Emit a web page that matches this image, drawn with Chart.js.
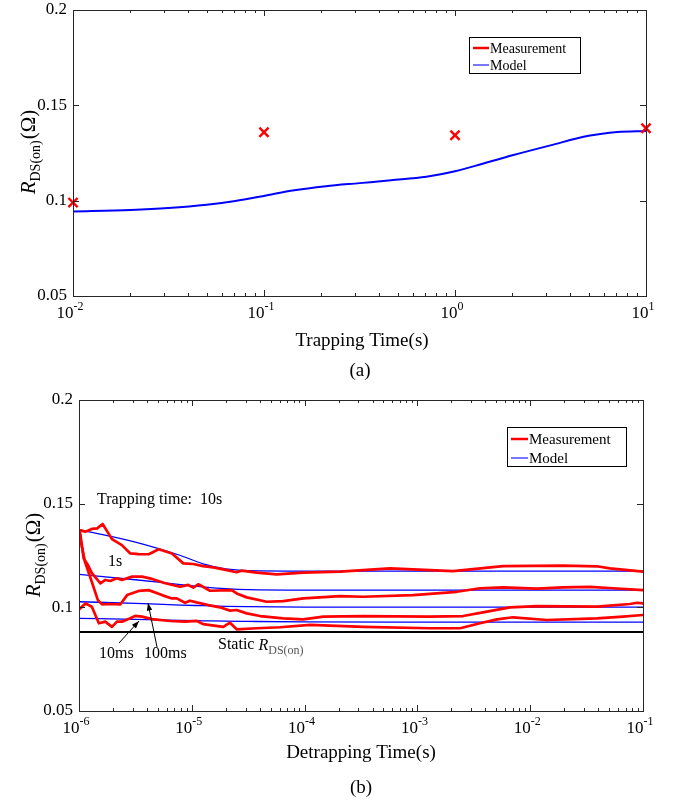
<!DOCTYPE html>
<html>
<head>
<meta charset="utf-8">
<script src="https://cdn.jsdelivr.net/npm/chart.js@4.4.0/dist/chart.umd.min.js"></script>
<style>
html, body { margin: 0; padding: 0; background: #fff; }
#wrap { position: relative; width: 681px; height: 804px; }
canvas { position: absolute; left: 0; }
</style>
</head>
<body>
<div id="wrap">
  <canvas id="chartA" width="681" height="390" style="top:0;width:681px;height:390px"></canvas>
  <canvas id="chartB" width="681" height="414" style="top:390px;width:681px;height:414px"></canvas>
</div>
<script>
// ─── Data (a): trapping time ─────────────────────────────────────────────────
const trapDecades = [-2, -1, 0, 1];
const rTicks = [0.05, 0.1, 0.15, 0.2];

const trapMeasT = [0.01, 0.1, 1, 10];
const trapMeasR = [0.0990, 0.1359, 0.1343, 0.1380];

const trapModelT = [0.01, 0.02, 0.0316, 0.0501, 0.0708, 0.1, 0.141, 0.211, 0.316, 0.462, 0.708, 1, 1.41, 2.0, 3.16, 5.01, 7.08, 10];
const trapModelR = [0.0943, 0.0951, 0.0961, 0.0978, 0.0998, 0.1025, 0.1053, 0.1076, 0.1092, 0.1107, 0.1125, 0.1154, 0.1195, 0.1238, 0.1290, 0.1340, 0.1360, 0.1366];

// ─── Data (b): detrapping time ───────────────────────────────────────────────
const detrapDecades = [-6, -5, -4, -3, -2, -1];

const meas10sT = [1.00e-6, 1.14e-6, 1.30e-6, 1.45e-6, 1.62e-6, 1.96e-6, 2.40e-6, 2.85e-6, 3.38e-6, 4.15e-6, 5.09e-6, 6.67e-6, 8.41e-6, 1.03e-5, 1.26e-5, 1.55e-5, 1.90e-5, 2.50e-5, 2.77e-5, 3.76e-5, 5.66e-5, 9.73e-5, 2.06e-4, 5.71e-4, 2.07e-3, 5.74e-3, 1.95e-2, 3.91e-2, 5.09e-2, 1.00e-1];
const meas10sR = [0.1373, 0.1365, 0.1378, 0.1381, 0.1402, 0.1329, 0.1300, 0.1260, 0.1257, 0.1256, 0.1280, 0.1260, 0.1212, 0.1209, 0.1199, 0.1193, 0.1183, 0.1169, 0.1177, 0.1167, 0.1159, 0.1167, 0.1172, 0.1188, 0.1175, 0.1199, 0.1201, 0.1198, 0.1188, 0.1172];

const meas1sT = [1.00e-6, 1.03e-6, 1.10e-6, 1.20e-6, 1.30e-6, 1.55e-6, 1.71e-6, 1.89e-6, 2.17e-6, 2.40e-6, 2.95e-6, 3.62e-6, 4.44e-6, 5.82e-6, 7.85e-6, 9.31e-6, 1.03e-5, 1.14e-5, 1.26e-5, 1.45e-5, 2.26e-5, 2.50e-5, 3.07e-5, 4.61e-5, 6.47e-5, 9.73e-5, 2.06e-4, 3.30e-4, 9.14e-4, 2.24e-3, 3.59e-3, 5.74e-3, 1.15e-2, 1.95e-2, 3.39e-2, 5.42e-2, 1.00e-1];
const meas1sR = [0.1368, 0.1349, 0.1236, 0.1204, 0.1165, 0.1116, 0.1132, 0.1127, 0.1140, 0.1132, 0.1148, 0.1148, 0.1137, 0.1116, 0.1099, 0.1108, 0.1095, 0.1111, 0.1099, 0.1080, 0.1083, 0.1067, 0.1048, 0.1027, 0.1030, 0.1043, 0.1054, 0.1051, 0.1059, 0.1075, 0.1092, 0.1096, 0.1090, 0.1096, 0.1099, 0.1092, 0.1083];

const meas100msT = [1.00e-6, 1.02e-6, 1.13e-6, 1.30e-6, 1.47e-6, 1.60e-6, 1.88e-6, 2.32e-6, 2.67e-6, 3.38e-6, 4.15e-6, 5.44e-6, 6.67e-6, 7.35e-6, 8.71e-6, 9.64e-6, 1.10e-5, 1.40e-5, 1.78e-5, 2.18e-5, 2.50e-5, 3.07e-5, 4.03e-5, 6.47e-5, 9.73e-5, 1.47e-4, 3.30e-4, 1.29e-3, 2.54e-3, 4.14e-3, 6.62e-3, 1.15e-2, 3.91e-2, 7.66e-2, 8.85e-2, 1.00e-1];
const meas100msR = [0.1363, 0.1339, 0.1219, 0.1122, 0.1035, 0.1014, 0.1016, 0.1014, 0.1059, 0.1079, 0.1083, 0.1059, 0.1043, 0.1043, 0.1022, 0.1032, 0.1024, 0.1011, 0.1000, 0.0984, 0.0987, 0.0971, 0.0958, 0.0947, 0.0942, 0.0955, 0.0958, 0.0955, 0.0958, 0.0979, 0.1000, 0.1006, 0.1003, 0.1016, 0.1022, 0.1019];

const meas10msT = [1.00e-6, 1.14e-6, 1.30e-6, 1.50e-6, 1.71e-6, 1.96e-6, 2.17e-6, 2.40e-6, 2.85e-6, 3.15e-6, 3.62e-6, 4.44e-6, 6.41e-6, 8.71e-6, 1.10e-5, 1.26e-5, 1.90e-5, 2.18e-5, 2.50e-5, 3.76e-5, 6.05e-5, 1.12e-4, 3.30e-4, 1.29e-3, 2.39e-3, 3.59e-3, 5.08e-3, 7.05e-3, 1.41e-2, 3.91e-2, 6.65e-2, 1.00e-1];
const meas10msR = [0.0990, 0.1019, 0.1003, 0.0923, 0.0931, 0.0906, 0.0931, 0.0931, 0.0947, 0.0959, 0.0955, 0.0943, 0.0934, 0.0931, 0.0935, 0.0919, 0.0906, 0.0926, 0.0894, 0.0899, 0.0904, 0.0915, 0.0906, 0.0899, 0.0899, 0.0923, 0.0942, 0.0952, 0.0939, 0.0947, 0.0955, 0.0963];

const modelT = [1e-6, 3.16e-6, 7.94e-6, 1.26e-5, 2.0e-5, 3.16e-5, 1e-4, 1e-3, 1e-2, 1e-1];
const model10sR = [0.1375, 0.1315, 0.1250, 0.1210, 0.1185, 0.1177, 0.1175, 0.1175, 0.1175, 0.1175];
const model1sR = [0.1159, 0.1133, 0.1110, 0.1099, 0.1090, 0.1085, 0.1083, 0.1083, 0.1083, 0.1083];
const model100msR = [0.1027, 0.1019, 0.1011, 0.1008, 0.1005, 0.1003, 0.1001, 0.1001, 0.1001, 0.1001];
const model10msR = [0.0947, 0.0942, 0.0937, 0.0935, 0.0933, 0.0932, 0.0930, 0.0929, 0.0929, 0.0929];

const staticT = [1e-6, 1e-1];
const staticR = [0.0881, 0.0881];

// ─── Helpers ─────────────────────────────────────────────────────────────────
const SERIF = '"Liberation Serif", "Times New Roman", serif';
const AXIS_COLOR = '#262626';

const pts = (ts, rs) => ts.map((t, i) => ({ x: t, y: rs[i] }));

function measLine(ts, rs) {
    return { data: pts(ts, rs), borderColor: '#ff0000', borderWidth: 2.7, pointRadius: 0,
             tension: 0, borderJoinStyle: 'round', borderCapStyle: 'round', order: 0 };
}
function modelLine(ts, rs, width) {
    return { data: pts(ts, rs), borderColor: '#0000ff', borderWidth: width, pointRadius: 0,
             cubicInterpolationMode: 'monotone', order: 1 };
}

function drawPow(ctx, x, y, exp) {
    const base = '10', sup = String(exp);
    ctx.font = `17px ${SERIF}`;
    const bw = ctx.measureText(base).width;
    ctx.font = `12px ${SERIF}`;
    const sw = ctx.measureText(sup).width;
    const x0 = x - (bw + sw) / 2 - 3;
    ctx.textAlign = 'left';
    ctx.textBaseline = 'middle';
    ctx.font = `17px ${SERIF}`;
    ctx.fillText(base, x0, y);
    ctx.font = `12px ${SERIF}`;
    ctx.fillText(sup, x0 + bw, y - 7);
}

function drawRLabel(ctx, x, y, size, subSize, tail, subColor) {
    // R_DS(on) followed by optional tail text, drawn left-aligned at x
    ctx.textAlign = 'left';
    ctx.textBaseline = 'alphabetic';
    ctx.font = `italic ${size}px ${SERIF}`;
    ctx.fillText('R', x, y);
    let cx = x + ctx.measureText('R').width;
    ctx.font = `${subSize}px ${SERIF}`;
    ctx.fillStyle = subColor || ctx.fillStyle;
    ctx.fillText('DS(on)', cx, y + size * 0.22);
    cx += ctx.measureText('DS(on)').width;
    if (tail) {
        ctx.fillStyle = '#000';
        ctx.font = `${size}px ${SERIF}`;
        ctx.fillText(tail, cx + 1, y);
        cx += ctx.measureText(tail).width + 1;
    }
    return cx - x;
}

function measureRLabel(ctx, size, subSize, tail) {
    ctx.font = `italic ${size}px ${SERIF}`;
    let w = ctx.measureText('R').width;
    ctx.font = `${subSize}px ${SERIF}`;
    w += ctx.measureText('DS(on)').width;
    ctx.font = `${size}px ${SERIF}`;
    w += ctx.measureText(tail).width + 1;
    return w;
}

// ─── Frame plugin: box, ticks, labels, legend ────────────────────────────────
const framePlugin = {
    id: 'frame',
    afterDatasetsDraw(chart, args, o) {
        const ctx = chart.ctx, a = chart.chartArea;
        const xs = chart.scales.x, ys = chart.scales.y;
        ctx.save();

        // box
        ctx.strokeStyle = AXIS_COLOR;
        ctx.lineWidth = 1;
        ctx.strokeRect(a.left + 0.5, a.top + 0.5, a.right - a.left, a.bottom - a.top);

        // x ticks (log, inward on top and bottom)
        ctx.beginPath();
        o.decades.forEach((e, i) => {
            const base = Math.pow(10, e);
            const px = Math.round(xs.getPixelForValue(base)) + 0.5;
            ctx.moveTo(px, a.bottom); ctx.lineTo(px, a.bottom - 6);
            ctx.moveTo(px, a.top); ctx.lineTo(px, a.top + 6);
            if (i < o.decades.length - 1) {
                for (let k = 2; k <= 9; k++) {
                    const mx = Math.round(xs.getPixelForValue(k * base)) + 0.5;
                    ctx.moveTo(mx, a.bottom); ctx.lineTo(mx, a.bottom - 3);
                    ctx.moveTo(mx, a.top); ctx.lineTo(mx, a.top + 3);
                }
            }
        });
        // y ticks
        rTicks.forEach(v => {
            const py = Math.round(ys.getPixelForValue(v)) + 0.5;
            ctx.moveTo(a.left, py); ctx.lineTo(a.left + 6, py);
            ctx.moveTo(a.right, py); ctx.lineTo(a.right - 6, py);
        });
        ctx.stroke();

        // tick labels
        ctx.fillStyle = '#000';
        o.decades.forEach(e => drawPow(ctx, xs.getPixelForValue(Math.pow(10, e)), a.bottom + 18, e));
        ctx.font = `17px ${SERIF}`;
        ctx.textAlign = 'right';
        ctx.textBaseline = 'middle';
        rTicks.forEach(v => ctx.fillText(String(v), a.left - 6, ys.getPixelForValue(v)));

        // axis titles
        ctx.font = `19px ${SERIF}`;
        ctx.textAlign = 'center';
        ctx.fillText(o.xTitle, o.xTitlePos[0], o.xTitlePos[1]);
        ctx.fillText(o.caption, o.captionPos[0], o.captionPos[1]);

        ctx.save();
        ctx.translate(o.yTitlePos[0], o.yTitlePos[1]);
        ctx.rotate(-Math.PI / 2);
        const w = measureRLabel(ctx, 21, 14, '(Ω)');
        ctx.fillStyle = '#000';
        drawRLabel(ctx, -w / 2, 7, 21, 14, '(Ω)');
        ctx.restore();

        // legend
        const L = o.legend;
        ctx.fillStyle = '#fff';
        ctx.fillRect(L.x, L.y, L.w, L.h);
        ctx.strokeStyle = '#000';
        ctx.lineWidth = 1;
        ctx.strokeRect(L.x + 0.5, L.y + 0.5, L.w, L.h);
        ctx.lineWidth = 2.5;
        ctx.strokeStyle = '#ff0000';
        ctx.beginPath(); ctx.moveTo(L.x + 4, L.y + L.r1); ctx.lineTo(L.x + L.lineW, L.y + L.r1); ctx.stroke();
        ctx.lineWidth = 1.5;
        ctx.strokeStyle = '#4a4aff';
        ctx.beginPath(); ctx.moveTo(L.x + 4, L.y + L.r2); ctx.lineTo(L.x + L.lineW, L.y + L.r2); ctx.stroke();
        ctx.fillStyle = '#000';
        ctx.font = `${L.font}px ${SERIF}`;
        ctx.textAlign = 'left';
        ctx.textBaseline = 'middle';
        ctx.fillText('Measurement', L.x + L.lineW + 1, L.y + L.r1 + 1);
        ctx.fillText('Model', L.x + L.lineW + 1, L.y + L.r2 + 1);

        if (o.extra) o.extra(ctx);
        ctx.restore();
    }
};

function arrow(ctx, x1, y1, x2, y2) {
    ctx.beginPath();
    ctx.moveTo(x1, y1); ctx.lineTo(x2, y2);
    ctx.stroke();
    const ang = Math.atan2(y2 - y1, x2 - x1), len = 8;
    ctx.beginPath();
    ctx.moveTo(x2, y2);
    ctx.lineTo(x2 - len * Math.cos(ang - 0.35), y2 - len * Math.sin(ang - 0.35));
    ctx.lineTo(x2 - len * Math.cos(ang + 0.35), y2 - len * Math.sin(ang + 0.35));
    ctx.closePath();
    ctx.fill();
}

function annotateB(ctx) {
    ctx.fillStyle = '#000';
    ctx.strokeStyle = '#000';
    ctx.lineWidth = 1;
    ctx.font = `16px ${SERIF}`;
    ctx.textAlign = 'left';
    ctx.textBaseline = 'middle';
    ctx.fillText('Trapping time:  10s', 97, 110);
    ctx.fillText('1s', 108, 172);
    ctx.fillText('10ms', 99, 264);
    ctx.fillText('100ms', 144, 264);
    ctx.fillText('Static ', 218, 255);
    ctx.font = `16px ${SERIF}`;
    const sw = ctx.measureText('Static ').width;
    drawRLabel(ctx, 218 + sw, 260, 16, 12, null, '#555');
    ctx.fillStyle = '#000';
    arrow(ctx, 119, 253, 139, 231);
    arrow(ctx, 157, 257, 148, 213);
}

// ─── Chart (a) ───────────────────────────────────────────────────────────────
new Chart(document.getElementById('chartA'), {
    type: 'line',
    data: {
        datasets: [
            { data: pts(trapMeasT, trapMeasR), showLine: false, pointStyle: 'crossRot', pointRadius: 6.5,
              pointBorderColor: '#ff0000', pointBorderWidth: 2.4, borderColor: '#ff0000', clip: false, order: 0 },
            modelLine(trapModelT, trapModelR, 2)
        ]
    },
    options: {
        responsive: false,
        animation: false,
        layout: { padding: { left: 73, top: 10, right: 35, bottom: 94 } },
        plugins: {
            legend: { display: false },
            tooltip: { enabled: false },
            frame: {
                decades: trapDecades,
                xTitle: 'Trapping Time(s)', xTitlePos: [362, 341],
                caption: '(a)', captionPos: [360, 371],
                yTitlePos: [28, 152],
                legend: { x: 469, y: 37, w: 111, h: 36, r1: 11, r2: 28, lineW: 20, font: 14 }
            }
        },
        scales: {
            x: { type: 'logarithmic', min: 0.01, max: 10, display: false },
            y: { type: 'linear', min: 0.05, max: 0.2, display: false }
        }
    },
    plugins: [framePlugin]
});

// ─── Chart (b) ───────────────────────────────────────────────────────────────
new Chart(document.getElementById('chartB'), {
    type: 'line',
    data: {
        datasets: [
            measLine(meas10sT, meas10sR),
            measLine(meas1sT, meas1sR),
            measLine(meas100msT, meas100msR),
            measLine(meas10msT, meas10msR),
            modelLine(modelT, model10sR, 1.3),
            modelLine(modelT, model1sR, 1.3),
            modelLine(modelT, model100msR, 1.3),
            modelLine(modelT, model10msR, 1.3),
            { data: pts(staticT, staticR), borderColor: '#000', borderWidth: 2, pointRadius: 0, order: 2 }
        ]
    },
    options: {
        responsive: false,
        animation: false,
        layout: { padding: { left: 79, top: 10, right: 38, bottom: 93 } },
        plugins: {
            legend: { display: false },
            tooltip: { enabled: false },
            frame: {
                decades: detrapDecades,
                xTitle: 'Detrapping Time(s)', xTitlePos: [361, 363],
                caption: '(b)', captionPos: [361, 398],
                yTitlePos: [33, 165],
                legend: { x: 507, y: 37, w: 119, h: 39, r1: 12, r2: 31, lineW: 21, font: 15 },
                extra: annotateB
            }
        },
        scales: {
            x: { type: 'logarithmic', min: 1e-6, max: 0.1, display: false },
            y: { type: 'linear', min: 0.05, max: 0.2, display: false }
        }
    },
    plugins: [framePlugin]
});
</script>
</body>
</html>
